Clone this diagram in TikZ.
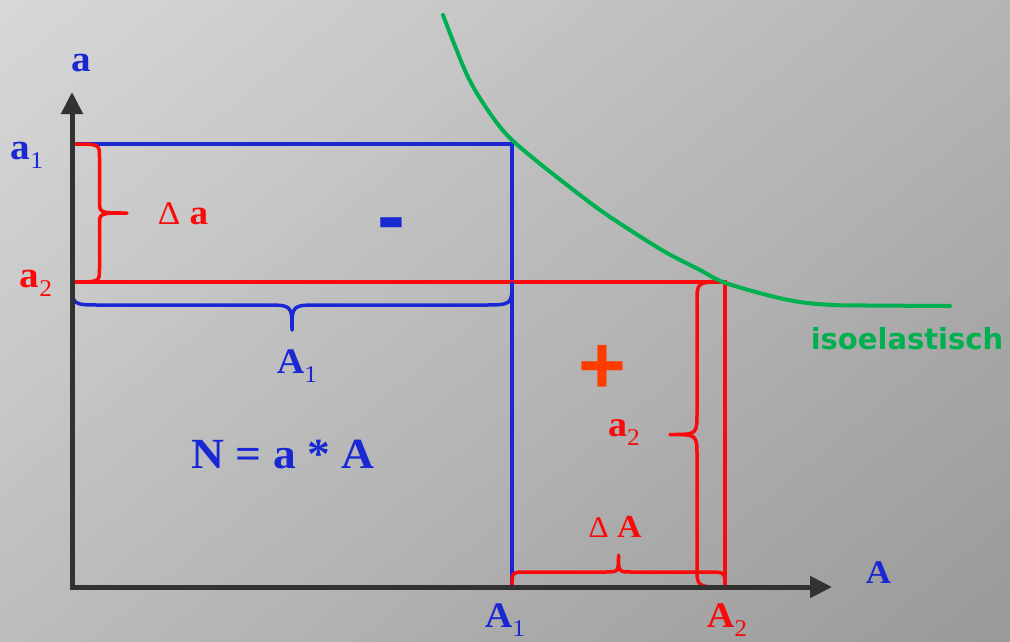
\documentclass[tikz,border=0pt]{standalone}
\usepackage{fontspec}
\usetikzlibrary{arrows.meta}
\newfontfamily\lblf[FakeStretch=1.06]{Liberation Serif}
\newfontfamily\isof{DejaVu Sans}
\newfontfamily\signf{Liberation Sans}
\definecolor{cblue}{RGB}{25,40,210}
\definecolor{cred}{RGB}{250,10,10}
\definecolor{corange}{RGB}{255,60,0}
\definecolor{cgreen}{RGB}{0,176,80}
\definecolor{caxis}{RGB}{50,50,50}
\newcommand\fs[1]{\fontsize{#1}{#1}\selectfont}
\newcommand\subs[1]{\raisebox{-9pt}{\fs{24}\mdseries #1}}
\begin{document}
\begin{tikzpicture}[x=1pt,y=-1pt,
  lbl/.style={inner sep=0pt,font=\lblf\bfseries\fs{36}},
  bluelbl/.style={lbl,text=cblue},
  redlbl/.style={lbl,text=cred},
  blueline/.style={draw=cblue,line width=4pt},
  redline/.style={draw=cred,line width=4.5pt},
  bluebrace/.style={draw=cblue,line width=3.5pt,line join=round},
  redbrace/.style={draw=cred,line width=3.5pt,line join=round},
  greenline/.style={draw=cgreen,line width=4pt,line cap=round},
  axisline/.style={draw=caxis,line width=5pt,{Triangle[length=22pt,width=21pt]}-{Triangle[length=22pt,width=21pt]}}]
\useasboundingbox (0,0) rectangle (1010,641);
% background gradient
\begin{scope}
\clip (0,0) rectangle (1010,641);
\foreach \i in {0,...,59}{
  \pgfmathsetmacro\tta{-568.5+\i*18.95}
  \pgfmathsetmacro\ttb{\tta+19.95}
  \pgfmathtruncatemacro\gv{round(216-(\i+0.5)*1.05)}
  \definecolor{bgc}{RGB}{\gv,\gv,\gv}
  \fill[bgc] ({505+\tta*0.637+900*0.770},{320.5+\tta*0.770-900*0.637}) -- ({505+\ttb*0.637+900*0.770},{320.5+\ttb*0.770-900*0.637}) -- ({505+\ttb*0.637-900*0.770},{320.5+\ttb*0.770+900*0.637}) -- ({505+\tta*0.637-900*0.770},{320.5+\tta*0.770+900*0.637}) -- cycle;
}
\end{scope}
% key points
\coordinate (O) at (72,587);
\coordinate (Ytip) at (72,92);
\coordinate (Xtip) at (832,587);
\coordinate (Ha1) at (72,144);
\coordinate (Ha2) at (72,282);
\coordinate (C1) at (512,144);
\coordinate (C2) at (725,282);
\coordinate (VA1) at (512,587);
\coordinate (VA2) at (725,587);
% rectangles
\draw[blueline] (Ha1) -| (VA1);
\draw[redline] (Ha2) -| (VA2);
% braces
\draw[redbrace] (Ha1) .. controls (99.5,144) .. (99.5,157) -- (99.5,201) .. controls (99.5,213) .. (127,213) .. controls (99.5,213) .. (99.5,225) -- (99.5,269) .. controls (99.5,282) .. (Ha2);
\draw[bluebrace] (Ha2) .. controls (72,305) .. (102,305) -- (264,305) .. controls (292,305) .. (292,330) .. controls (292,305) .. (320,305) -- (482,305) .. controls (512,305) .. (512,282);
\draw[redbrace] (C2) .. controls (697,282) .. (697,302) -- (697,413) .. controls (697,434.5) .. (670,434.5) .. controls (697,434.5) .. (697,456) -- (697,567) .. controls (697,587) .. (VA2);
\draw[redbrace] (VA1) .. controls (512,572) .. (527,572) -- (605,572) .. controls (618.5,572) .. (618.5,555) .. controls (618.5,572) .. (632,572) -- (708,572) .. controls (725,572) .. (VA2);
% isoelastic curve
\draw[greenline] plot[smooth, tension=0.6] coordinates {(443,15) (455,46) (469,79) (487,109) (507,135) (533,158) (567,185) (600,210) (633,232) (667,253) (700,270) (723,282) (767,295) (800,302) (833,305) (867,305.5) (950,306)};
% axes
\draw[axisline] (Ytip) -- (O) -- (Xtip);
% labels
\node[bluelbl,font=\lblf\bfseries\fs{37}] (la) at (81,63) {a};
\node[bluelbl,font=\lblf\bfseries\fs{33}] (lA) at (878.5,572.5) {A};
\node[bluelbl,font=\lblf\bfseries\fs{37}] (la1) at (27,155) {a\subs{1}};
\node[redlbl,font=\lblf\bfseries\fs{37}] (la2) at (36,283) {a\subs{2}};
\node[redlbl,font=\lblf\bfseries\fs{35}] (lda) at (183,214) {{\mdseries\fs{33}Δ} a};
\node[bluelbl,font=\lblf\bfseries\fs{36}] (lA1m) at (297,366) {A\subs{1}};
\node[bluelbl,font=\lblf\bfseries\fs{43}] (lN) at (283,455) {N = a * A};
\node[redlbl,font=\lblf\bfseries\fs{36}] (la2r) at (624,433) {a\subs{2}};
\node[redlbl,font=\lblf\bfseries\fs{32}] (ldA) at (615,527) {{\mdseries\fs{30}Δ} A};
\node[bluelbl,font=\lblf\bfseries\fs{36}] (lA1) at (505,620) {A\subs{1}};
\node[redlbl,font=\lblf\bfseries\fs{36}] (lA2) at (727,620) {A\subs{2}};
\node[inner sep=0pt,anchor=base,text=cblue,font=\signf\bfseries\fs{84}] (minus) at (391,244) {-};
\node[inner sep=0pt,anchor=base,text=corange,font=\signf\bfseries\fs{82}] (plus) at (602,393) {+};
\node[inner sep=0pt,text=cgreen,font=\isof\bfseries\fs{29}] (iso) at (907,338.5) {isoelastisch};
\end{tikzpicture}
\end{document}
